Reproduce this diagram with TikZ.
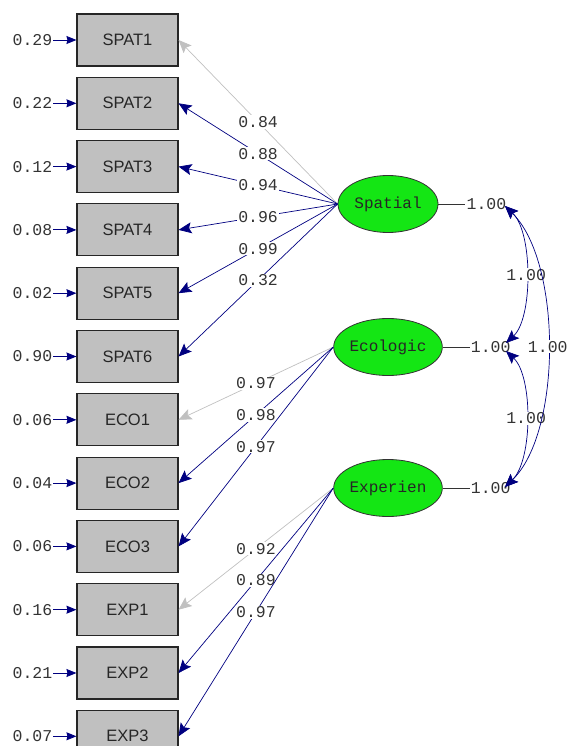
\documentclass[tikz,border=0pt]{standalone}
\usepackage{fontspec}
\setmainfont{Liberation Sans}
\newfontfamily\lismono{Liberation Mono}
\usepackage{xcolor}
\usetikzlibrary{positioning,arrows.meta,shapes.geometric}
\definecolor{pathnavy}{RGB}{0,0,128}
\definecolor{fixgray}{RGB}{192,192,192}
\definecolor{boxgray}{RGB}{192,192,192}
\definecolor{latgreen}{RGB}{20,230,20}

\begin{document}
\begin{tikzpicture}[x=1pt, y=-1pt, font=\fontsize{16.5}{18}\selectfont,
    tip/.tip={Stealth[length=13pt,width=11pt,inset=2.5pt]},
    etip/.tip={Stealth[length=10pt,width=8pt,inset=1pt]}]
\tikzstyle{obs}=[
    draw=black!85, line width=1.1pt,
    fill=boxgray, text=black!85,
    minimum width=101pt,
    minimum height=52pt,
    inner sep=0pt
]
\tikzstyle{num}=[font=\lismono\fontsize{16.5}{18}\selectfont, text=black!80, inner sep=1pt]
\tikzstyle{lat}=[ellipse, draw=black!80, line width=0.8pt, fill=latgreen,
    minimum width=100pt, minimum height=57pt, inner sep=0pt,
    font=\lismono\fontsize{16}{18}\selectfont, text=black!85]
\tikzstyle{lab}=[num, fill=white]
\tikzstyle{load}=[-tip, color=pathnavy, line width=0.7pt]
\tikzstyle{fixed}=[-tip, color=fixgray, line width=0.7pt]
\tikzstyle{err}=[-etip, color=pathnavy, line width=0.9pt]
\tikzstyle{cov}=[tip-tip, color=pathnavy, line width=0.7pt]

\useasboundingbox (0,0) rectangle (575,746);

% observed variables
\node[obs] (s1) at (127.5,40) {SPAT1};
\node[obs, below=10.2pt of s1] (s2) {SPAT2};
\node[obs, below=10.2pt of s2] (s3) {SPAT3};
\node[obs, below=10.2pt of s3] (s4) {SPAT4};
\node[obs, below=10.2pt of s4] (s5) {SPAT5};
\node[obs, below=10.2pt of s5] (s6) {SPAT6};
\node[obs, below=10.2pt of s6] (c1) {ECO1};
\node[obs, below=10.2pt of c1] (c2) {ECO2};
\node[obs, below=10.2pt of c2] (c3) {ECO3};
\node[obs, below=10.2pt of c3] (x1) {EXP1};
\node[obs, below=10.2pt of x1] (x2) {EXP2};
\node[obs, below=10.2pt of x2] (x3) {EXP3};

% error variances
\node[num, left=23pt of s1] (es1) {0.29};
\node[num, left=23pt of s2] (es2) {0.22};
\node[num, left=23pt of s3] (es3) {0.12};
\node[num, left=23pt of s4] (es4) {0.08};
\node[num, left=23pt of s5] (es5) {0.02};
\node[num, left=23pt of s6] (es6) {0.90};
\node[num, left=23pt of c1] (ec1) {0.06};
\node[num, left=23pt of c2] (ec2) {0.04};
\node[num, left=23pt of c3] (ec3) {0.06};
\node[num, left=23pt of x1] (ex1) {0.16};
\node[num, left=23pt of x2] (ex2) {0.21};
\node[num, left=23pt of x3] (ex3) {0.07};

\draw[err] (es1) -- (s1);
\draw[err] (es2) -- (s2);
\draw[err] (es3) -- (s3);
\draw[err] (es4) -- (s4);
\draw[err] (es5) -- (s5);
\draw[err] (es6) -- (s6);
\draw[err] (ec1) -- (c1);
\draw[err] (ec2) -- (c2);
\draw[err] (ec3) -- (c3);
\draw[err] (ex1) -- (x1);
\draw[err] (ex2) -- (x2);
\draw[err] (ex3) -- (x3);

% latent variables
\node[lat] (spat) at (388,204) {Spatial};
\node[lat] (ecol) at (388,347) {Ecologic};
\node[lat] (expe) at (388,488) {Experien};

% loadings
\draw[fixed] (spat.west) -- node[lab]{0.84} (s1.east);
\draw[load] (spat.west) -- node[lab]{0.88} (s2.east);
\draw[load] (spat.west) -- node[lab]{0.94} (s3.east);
\draw[load] (spat.west) -- node[lab]{0.96} (s4.east);
\draw[load] (spat.west) -- node[lab]{0.99} (s5.east);
\draw[load] (spat.west) -- node[lab]{0.32} (s6.east);
\draw[fixed] (ecol.west) -- node[lab]{0.97} (c1.east);
\draw[load] (ecol.west) -- node[lab]{0.98} (c2.east);
\draw[load] (ecol.west) -- node[lab]{0.97} (c3.east);
\draw[fixed] (expe.west) -- node[lab]{0.92} (x1.east);
\draw[load] (expe.west) -- node[lab]{0.89} (x2.east);
\draw[load] (expe.west) -- node[lab]{0.97} (x3.east);

% variances of the factors
\node[num, right=27pt of spat] (vspat) {1.00};
\node[num, right=27pt of ecol] (vecol) {1.00};
\node[num, right=27pt of expe] (vexpe) {1.00};
\draw[line width=0.8pt, black!80] (spat.east) -- (vspat.west);
\draw[line width=0.8pt, black!80] (ecol.east) -- (vecol.west);
\draw[line width=0.8pt, black!80] (expe.east) -- (vexpe.west);

% covariances
\coordinate (cspat) at (505,206);
\coordinate (cecol1) at (506,343);
\coordinate (cecol2) at (506,351);
\coordinate (cexpe) at (505,487);
\draw[cov] (cspat) .. controls (533,232) and (533,318) .. node[lab]{1.00} (cecol1);
\draw[cov] (cecol2) .. controls (533,376) and (533,460) .. node[lab]{1.00} (cexpe);
\draw[cov] (cspat) .. controls (562,262) and (562,432) .. node[lab]{1.00} (cexpe);
\end{tikzpicture}
\end{document}
